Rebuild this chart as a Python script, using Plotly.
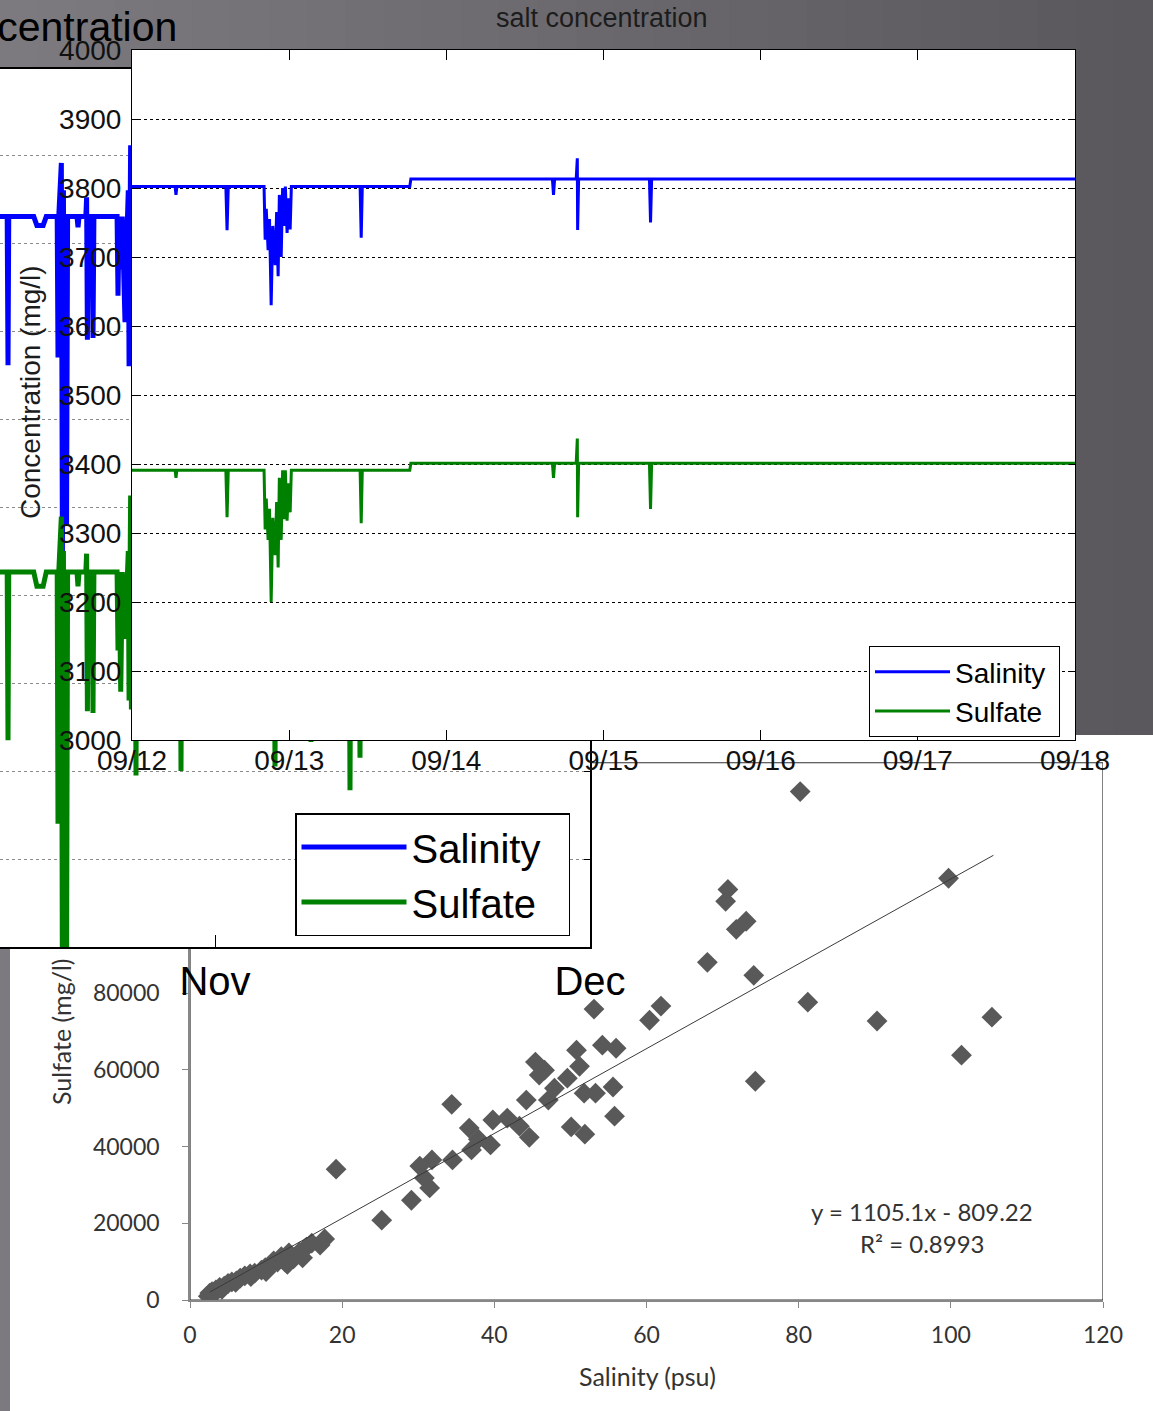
import plotly.graph_objects as go

W, H = 1153, 1411

# ---- front chart: salt concentration 09/12 - 09/18 ----
front_time = [
    "2013-09-12 00:00", "2013-09-12 06:35", "2013-09-12 06:43", "2013-09-12 06:51",
    "2013-09-12 14:20", "2013-09-12 14:31", "2013-09-12 14:42",
    "2013-09-12 20:10", "2013-09-12 20:20", "2013-09-12 20:30", "2013-09-12 20:47",
    "2013-09-12 21:00", "2013-09-12 21:15", "2013-09-12 21:30", "2013-09-12 21:52",
    "2013-09-12 22:05", "2013-09-12 22:19", "2013-09-12 22:30", "2013-09-12 22:47",
    "2013-09-12 23:00", "2013-09-12 23:14", "2013-09-12 23:25", "2013-09-12 23:41",
    "2013-09-12 23:55", "2013-09-13 00:09", "2013-09-13 00:20",
    "2013-09-13 10:50", "2013-09-13 11:00", "2013-09-13 11:10",
    "2013-09-13 18:25", "2013-09-13 18:35",
    "2013-09-14 16:12", "2013-09-14 16:22", "2013-09-14 16:32",
    "2013-09-14 19:50", "2013-09-14 20:00", "2013-09-14 20:03", "2013-09-14 20:12",
    "2013-09-15 07:01", "2013-09-15 07:11", "2013-09-15 07:21",
    "2013-09-18 00:00",
]
salinity_front = [
    3802, 3802, 3790, 3802,
    3802, 3739, 3802,
    3802, 3725, 3770, 3710, 3755, 3630, 3745, 3688, 3765, 3672, 3790, 3700,
    3800, 3745, 3802, 3735, 3785, 3740, 3802,
    3802, 3728, 3802,
    3802, 3813,
    3813, 3790, 3813,
    3813, 3843, 3739, 3813,
    3813, 3750, 3813,
    3813,
]
sulfate_front = [
    3391, 3391, 3380, 3391,
    3391, 3323, 3391,
    3391, 3305, 3350, 3290, 3335, 3200, 3322, 3268, 3345, 3250, 3380, 3290,
    3391, 3320, 3391, 3318, 3372, 3330, 3391,
    3391, 3314, 3391,
    3391, 3401,
    3401, 3380, 3401,
    3401, 3437, 3323, 3401,
    3401, 3335, 3401,
    3401,
]

# ---- back chart: longer record (Oct - Dec), mostly hidden ----
back_time = [
    "2012-10-14 00:00",
    "2012-10-15 09:00", "2012-10-15 10:34", "2012-10-15 12:00",
    "2012-10-17 12:00", "2012-10-17 18:00", "2012-10-18 06:00", "2012-10-18 12:00",
    "2012-10-19 09:00", "2012-10-19 10:34", "2012-10-19 12:00",
    "2012-10-19 17:00", "2012-10-19 19:00", "2012-10-19 21:00", "2012-10-19 23:00",
    "2012-10-20 01:00", "2012-10-20 03:00", "2012-10-20 05:00",
    "2012-10-20 23:00", "2012-10-21 00:58", "2012-10-21 03:00",
    "2012-10-21 16:00", "2012-10-21 17:30", "2012-10-21 19:00", "2012-10-21 20:30",
    "2012-10-22 04:00", "2012-10-22 05:46", "2012-10-22 07:30",
    "2012-10-24 04:00", "2012-10-24 05:46", "2012-10-24 08:00", "2012-10-24 11:00",
    "2012-10-24 14:00", "2012-10-24 19:12", "2012-10-25 00:00", "2012-10-25 01:30",
    "2012-10-25 03:00", "2012-10-25 06:00", "2012-10-25 07:30", "2012-10-25 09:00",
    "2012-10-25 14:30", "2012-10-25 16:19", "2012-10-25 18:00",
    "2012-10-29 05:00", "2012-10-29 06:43", "2012-10-29 08:30",
    "2012-11-05 17:30", "2012-11-05 19:12", "2012-11-05 21:00",
    "2012-11-08 14:30", "2012-11-08 16:19", "2012-11-08 18:00",
    "2012-11-11 17:30", "2012-11-11 19:12", "2012-11-11 21:00",
    "2012-11-12 12:30", "2012-11-12 14:24", "2012-11-12 16:00",
    "2012-12-02 00:00",
]
salinity_back = [
    3530,
    3530, 3361, 3530,
    3530, 3520, 3520, 3530,
    3530, 3370, 3530,
    3591, 3150, 3560, 3200, 3420, 3180, 3530,
    3530, 3518, 3530,
    3530, 3552, 3390, 3530,
    3530, 3392, 3530,
    3530, 3440, 3530, 3470, 3530, 3410, 3530, 3560, 3360, 3611, 3370, 3530,
    3530, 3450, 3530,
    3530, 3400, 3530,
    3530, 3480, 3530,
    3530, 3500, 3530,
    3530, 3460, 3530,
    3530, 3500, 3530,
    3530,
]
sulfate_back = [
    3126,
    3126, 2935, 3126,
    3126, 3110, 3110, 3126,
    3126, 2840, 3126,
    3189, 2650, 3150, 2700, 2900, 2680, 3126,
    3126, 3110, 3126,
    3126, 3147, 2968, 3126,
    3126, 2966, 3126,
    3126, 3037, 3126, 2990, 3126, 3050, 3126, 3150, 2980, 3213, 2970, 3126,
    3126, 2895, 3126,
    3126, 2900, 3126,
    3126, 2905, 3126,
    3126, 2933, 3126,
    3126, 2878, 3126,
    3126, 2915, 3126,
    3126,
]

# ---- scatter: sulfate vs salinity ----
salinity_psu = [
    80.2, 70.7, 70.4, 99.7, 73.1, 71.8, 68.0, 74.1, 81.2, 61.9, 60.4, 53.1,
    90.3, 105.4, 101.4, 74.3, 55.8, 50.8, 54.2, 56.0, 55.6, 53.3, 51.9, 50.1,
    45.4, 46.6, 45.9, 47.1, 44.2, 47.9, 49.6, 51.2, 51.8, 44.6, 43.3, 41.7,
    39.8, 39.5, 37.9, 36.7, 37.0, 34.4, 34.5, 31.8, 30.2, 31.5, 30.8, 29.1,
    25.2, 19.2, 17.7, 17.1, 14.4, 13.6, 12.5, 11.5, 10.5, 9.4, 7.9, 6.6,
    5.5, 4.5, 3.4, 2.6, 2.4, 2.9, 3.9, 5.0, 6.1, 7.2, 8.5, 9.9, 11.0, 12.0,
    13.0, 15.3, 14.8, 16.0, 3.1, 4.2, 6.0, 8.0, 10.0, 12.8,
]
sulfate_mgl = [
    132500, 107000, 103900, 109900, 98700, 96600, 88000, 84600, 77600, 76600, 72900, 75800,
    72700, 73700, 63800, 57000, 47900, 65100, 66400, 65600, 55500, 53900, 43200, 45100,
    62000, 59900, 58600, 52100, 52100, 55200, 57800, 60900, 53900, 42400, 45300, 47400,
    46900, 40400, 41900, 44800, 39100, 51000, 36500, 36500, 34900, 29200, 31800, 26000,
    20800, 34100, 15900, 14300, 12500, 10700, 9900, 9900, 8900, 7800, 6800, 5700,
    4700, 3600, 2600, 1800, 1000, 2200, 3300, 4300, 5000, 6300, 7000, 8400, 10200, 11300,
    12300, 13800, 11000, 14800, 1600, 2800, 4600, 6100, 7400, 9300,
]
trend_x = [2.6, 105.6]
trend_y = [2064, 115889]

BLUE, GREEN = "#0000ff", "#008000"
ARIAL = "Liberation Sans, Arial, sans-serif"
CALIBRI = "Lato, Carlito, sans-serif"
NBSP = "\u00a0"


def px_x(p):
    return p / W


def px_y(p):
    return 1 - p / H


fig = go.Figure()

# scatter (bottom image)
fig.add_trace(go.Scatter(
    x=salinity_psu, y=sulfate_mgl, mode="markers", xaxis="x", yaxis="y",
    marker=dict(symbol="diamond", size=16, color="#595959"), showlegend=False,
))
fig.add_trace(go.Scatter(
    x=trend_x, y=trend_y, mode="lines", xaxis="x", yaxis="y",
    line=dict(color="#3a3a3a", width=1), showlegend=False,
))

# back chart
fig.add_trace(go.Scatter(
    x=back_time, y=salinity_back, mode="lines", name="Salinity" + NBSP * 2,
    xaxis="x2", yaxis="y2", line=dict(color=BLUE, width=5), legend="legend2",
))
fig.add_trace(go.Scatter(
    x=back_time, y=sulfate_back, mode="lines", name="Sulfate",
    xaxis="x2", yaxis="y2", line=dict(color=GREEN, width=5), legend="legend2",
))

# front chart
fig.add_trace(go.Scatter(
    x=front_time, y=salinity_front, mode="lines", name="Salinity" + NBSP,
    xaxis="x3", yaxis="y3", line=dict(color=BLUE, width=3), legend="legend",
))
fig.add_trace(go.Scatter(
    x=front_time, y=sulfate_front, mode="lines", name="Sulfate",
    xaxis="x3", yaxis="y3", line=dict(color=GREEN, width=3), legend="legend",
))

# gray gradient backdrop, built from thin bands
shapes = []
n_bands = 30
c0, c1 = (124, 122, 127), (90, 88, 93)
for i in range(n_bands):
    t = i / (n_bands - 1)
    col = "rgb(%d,%d,%d)" % tuple(round(a + (b - a) * t) for a, b in zip(c0, c1))
    shapes.append(dict(type="rect", xref="paper", yref="paper", layer="below",
                       x0=i / n_bands, x1=(i + 1) / n_bands + 0.002, y0=0, y1=1,
                       line=dict(width=0), fillcolor=col))
# white page behind the scatter picture
shapes.append(dict(type="rect", xref="paper", yref="paper", layer="below",
                   x0=px_x(10), x1=1, y0=0, y1=px_y(735),
                   line=dict(width=0), fillcolor="white"))
# plot-area frame of the scatter
shapes.append(dict(type="rect", xref="x", yref="y", layer="below",
                   x0=0, x1=120, y0=0, y1=140000,
                   line=dict(color="#303030", width=1.2)))


def note(text, x, y, size, family, color="#1c1c1c", angle=0, xanchor="center"):
    return dict(text=text, x=px_x(x), y=px_y(y), xref="paper", yref="paper",
                xanchor=xanchor, yanchor="middle", textangle=angle, showarrow=False,
                font=dict(family=family, size=size, color=color))


annotations = [
    note("salt concentration", 602, 18, 27, ARIAL),
    note("Salt Concentration", 179, 27, 41, ARIAL, color="black", xanchor="right"),
    note("Concentration (mg/l)", 31, 392, 28, ARIAL, angle=-90),
    note("y = 1105.1x - 809.22", 922, 1211, 24, CALIBRI, color="#333333"),
    note("R² = 0.8993", 922, 1243, 24, CALIBRI, color="#333333"),
    note("Salinity (psu)", 647, 1376, 25, CALIBRI, color="#333333"),
    note("Sulfate (mg/l)", 61, 1032, 25, CALIBRI, color="#333333", angle=-90),
]

scat_top = 730
fig.update_layout(
    template="none",
    width=W, height=H,
    margin=dict(l=0, r=0, t=0, b=0, pad=0),
    paper_bgcolor="#6c6a6f",
    plot_bgcolor="white",
    showlegend=True,
    shapes=shapes,
    annotations=annotations,
    # scatter axes
    xaxis=dict(
        domain=[px_x(190), px_x(1103)], range=[0, 120], dtick=20, automargin=False,
        showline=True, linecolor="#878787", linewidth=1.5, showgrid=False, zeroline=False,
        ticks="outside", ticklen=6, tickcolor="#878787", ticklabelstandoff=8,
        tickfont=dict(family=CALIBRI, size=23, color="#333333"),
    ),
    yaxis=dict(
        domain=[px_y(1300), px_y(scat_top)], range=[0, (1300 - scat_top) / 3.8375 * 1000],
        dtick=20000, tickformat="d", anchor="x", automargin=False,
        showline=True, linecolor="#878787", linewidth=1.5, showgrid=False, zeroline=False,
        ticks="outside", ticklen=6, tickcolor="#878787", ticklabelstandoff=18,
        tickfont=dict(family=CALIBRI, size=23, color="#333333"),
    ),
    # back chart axes
    xaxis2=dict(
        domain=[0, px_x(590)], anchor="y2", type="date", automargin=False,
        range=["2012-10-14 19:12", "2012-12-01 00:00"],
        tick0="2012-11-01", dtick="M1", tickformat="%b",
        showline=True, linecolor="black", linewidth=1.5, mirror=True,
        ticks="inside", ticklen=12, tickcolor="black", showgrid=False, ticklabelstandoff=-2,
        tickfont=dict(family=ARIAL, size=40, color="black"),
    ),
    yaxis2=dict(
        domain=[px_y(947), px_y(69)], anchor="x2", side="right", automargin=False,
        range=[2700, 2700 + (947 - 69) / 0.88], dtick=100, tick0=2700,
        showline=True, linecolor="black", linewidth=1.5,
        ticks="inside", ticklen=6, tickcolor="black", showticklabels=False,
        showgrid=True, gridcolor="#8a8a8a", gridwidth=1, griddash="dot", zeroline=False,
    ),
    # front chart axes
    xaxis3=dict(
        domain=[px_x(132), px_x(1075)], anchor="y3", type="date", automargin=False,
        range=["2013-09-12 00:00", "2013-09-18 00:00"],
        dtick=86400000, tickformat="%m/%d",
        showline=True, linecolor="black", linewidth=1, mirror="ticks",
        ticks="inside", ticklen=10, tickcolor="black", showgrid=False, ticklabelstandoff=-5,
        tickfont=dict(family=ARIAL, size=28, color="#111111"),
    ),
    yaxis3=dict(
        domain=[px_y(740), px_y(50)], anchor="x3", automargin=False,
        range=[3000, 4000], dtick=100,
        showline=True, linecolor="black", linewidth=1, mirror="ticks",
        ticks="inside", ticklen=6, tickcolor="black", ticklabelstandoff=4,
        showgrid=True, gridcolor="black", gridwidth=1, griddash="dot", zeroline=False,
        tickfont=dict(family=ARIAL, size=28, color="#111111"),
    ),
    legend=dict(
        x=px_x(869), y=px_y(646), xanchor="left", yanchor="top",
        bgcolor="white", bordercolor="black", borderwidth=1, itemwidth=75,
        font=dict(family=ARIAL, size=28, color="black"), tracegroupgap=0,
    ),
    legend2=dict(
        x=px_x(295), y=px_y(813), xanchor="left", yanchor="top",
        bgcolor="white", bordercolor="black", borderwidth=1.5, itemwidth=105,
        font=dict(family=ARIAL, size=40, color="black"), tracegroupgap=0,
    ),
)

fig.write_html("out.html", config={"displayModeBar": False},
               post_script="document.body.style.margin='0';")
